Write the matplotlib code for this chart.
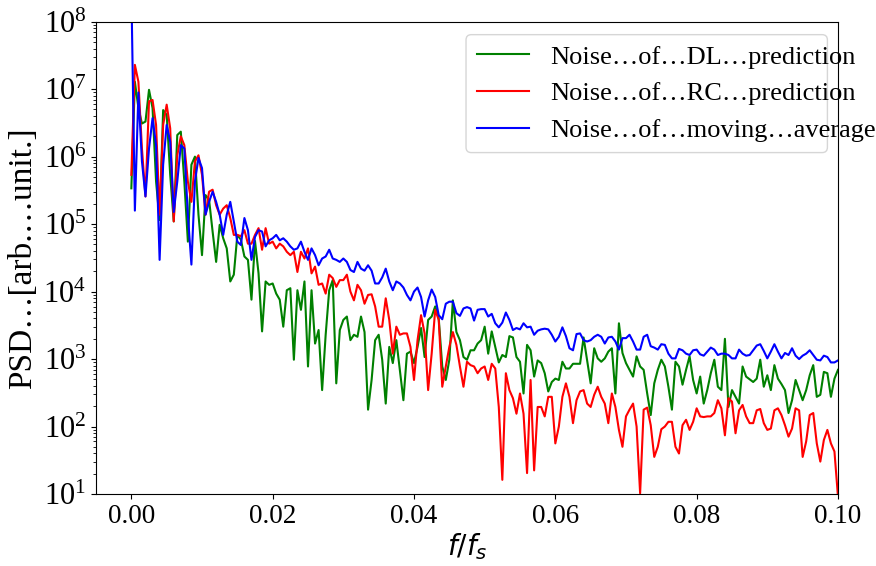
import numpy as np
import matplotlib
matplotlib.use("Agg")
import matplotlib.pyplot as plt
from matplotlib.patches import FancyBboxPatch
from matplotlib.ticker import LogLocator

# frequency axis (normalised f/fs)
freq_step = 0.0005
n_points = 201

# log10(PSD), one value per frequency bin
dl_log10 = [
    5.53, 7.11, 6.72, 6.49, 6.52, 6.99, 6.72, 5.63, 5.06, 6.69, 6.62, 5.73, 5.04, 6.32, 6.37, 5.63,
    4.74, 5.88, 6.0, 5.14, 4.54, 5.43, 5.36, 4.89, 4.44, 4.99, 4.79, 4.64, 4.15, 4.25, 4.84, 4.77,
    4.52, 4.47, 3.88, 4.75, 4.27, 3.41, 4.15, 4.1, 4.12, 3.97, 3.88, 3.48, 4.02, 4.05, 2.99, 4.02,
    3.73, 4.15, 2.89, 4.02, 3.23, 3.43, 2.54, 3.36, 4.02, 4.17, 2.64, 3.43, 3.58, 3.63, 3.28, 3.36,
    3.33, 3.63,
    3.4, 2.25, 2.69, 3.28, 3.36, 2.99, 2.34, 3.18, 2.94, 3.28, 2.84, 2.39, 3.08, 3.11, 2.94, 3.18,
    3.46, 3.03, 3.58, 3.63, 3.78, 3.6, 2.89, 2.69, 2.99, 3.87, 3.4, 3.28, 3.03, 2.99, 3.13, 3.13,
    3.23, 3.28,
    3.48, 3.08, 3.41, 3.18, 2.95, 3.06, 3.03, 3.34, 3.32, 3.03, 2.96, 2.49, 3.21, 3.13, 2.74, 2.98,
    2.94, 2.79, 2.52, 2.66, 2.71, 2.69, 2.96, 2.86, 2.86, 2.93, 2.93, 2.93, 3.32, 2.98, 2.64, 3.16,
    3.01, 2.96,
    3.01, 3.11, 3.16, 2.49, 3.53, 3.09, 2.94, 2.84, 2.74, 3.04, 2.89, 2.84, 2.49, 2.17, 2.64, 2.84,
    2.99, 2.89, 2.59, 2.25, 2.96, 2.89, 2.62, 2.84, 3.04, 2.69, 2.49, 2.74, 2.34, 2.54, 2.79, 2.99,
    2.59, 2.54,
    3.3, 2.29, 2.54, 2.44, 2.34, 2.89, 2.74, 2.7, 2.66, 2.71, 2.99, 2.59, 2.76, 2.54, 2.91, 2.71,
    2.63, 2.54, 2.2, 2.39, 2.69, 2.54, 2.39, 2.54, 2.76, 2.91, 2.44, 2.47, 2.81, 2.79, 2.44, 2.71,
    2.84,
]

rc_log10 = [
    5.73, 7.36, 7.11, 6.12, 5.41, 6.82, 6.84, 6.47, 5.14, 6.47, 6.77, 6.42, 5.04, 6.02, 6.3, 6.17,
    5.63, 5.33, 5.93, 6.02, 5.73, 5.14, 5.48, 5.51, 5.28, 5.14, 5.23, 5.28, 5.09, 4.84, 4.84, 4.82,
    4.91, 4.71, 4.71, 4.84, 4.94, 4.62, 4.94, 4.71, 4.74, 4.64, 4.71, 4.67, 4.59, 4.54, 4.59, 4.29,
    4.59, 4.49, 4.64, 4.27, 4.37, 4.1, 4.12, 3.97, 4.25, 4.2, 4.07, 4.17, 4.17, 4.25, 4.0, 3.87,
    4.1, 4.02,
    3.82, 3.95, 3.96, 3.78, 3.48, 3.48, 3.9, 3.58, 3.08, 3.48, 3.36, 3.38, 3.38, 3.18, 2.69, 3.28,
    3.65, 3.38, 2.54, 3.08, 3.73, 3.58, 2.59, 2.89, 3.18, 3.4, 3.21, 2.89, 2.59, 2.96, 2.91, 2.89,
    2.79, 2.86,
    2.89, 2.69, 2.93, 2.86, 2.29, 1.21, 2.79, 2.54, 2.42, 2.19, 2.49, 2.19, 1.31, 2.69, 1.35, 2.29,
    2.29, 2.15, 2.44, 2.44, 1.75, 2.0, 2.44, 2.64, 2.44, 2.05, 2.39, 2.52, 2.54, 2.34, 2.29, 2.47,
    2.59, 2.44,
    2.34, 2.05, 2.49, 2.29, 1.95, 1.7, 2.15, 2.25, 2.34, 2.0, 1.01, 2.25, 2.28, 2.02, 1.55, 1.7,
    1.96, 2.0, 2.07, 2.07, 1.7, 1.6, 2.02, 2.1, 1.95, 2.07, 2.27, 2.15, 2.14, 2.15, 2.15, 2.2,
    2.39, 2.27,
    1.87, 2.42, 2.37, 1.9, 2.24, 2.32, 2.15, 2.05, 2.05, 2.24, 2.26, 2.05, 1.95, 1.97, 2.24, 2.27,
    2.17, 2.02, 1.85, 1.97, 2.27, 2.24, 1.55, 1.78, 2.17, 2.2, 1.75, 1.48, 1.8, 1.95, 1.75, 1.63,
    0.96,
]

ma_log10 = [
    8.5, 5.2, 6.95, 5.93, 5.41, 6.12, 6.57, 6.17, 4.47, 5.88, 6.47, 6.22, 5.18, 5.63, 6.17, 6.12,
    5.14, 4.4, 5.63, 5.98, 5.83, 5.14, 5.33, 5.48, 5.33, 5.14, 4.84, 5.14, 5.33, 5.04, 4.74, 4.69,
    5.09, 4.91, 4.47, 4.81, 4.91, 4.89, 4.67, 4.76, 4.79, 4.84, 4.76, 4.79, 4.74, 4.67, 4.62, 4.64,
    4.74, 4.59, 4.47, 4.64, 4.54, 4.39, 4.49, 4.52, 4.62, 4.49, 4.47, 4.44, 4.49, 4.44, 4.32, 4.29,
    4.44, 4.34,
    4.31, 4.39, 4.31, 4.12, 4.12, 4.21, 4.34, 4.15, 4.02, 4.15, 4.12, 4.06, 3.95, 3.87, 4.0, 4.06,
    3.92, 3.63, 3.87, 4.03, 3.92, 3.65, 3.59, 3.82, 3.85, 3.85, 3.68, 3.64, 3.75, 3.77, 3.75, 3.57,
    3.73, 3.74,
    3.74, 3.63, 3.67, 3.53, 3.47, 3.54, 3.69, 3.58, 3.43, 3.46, 3.44, 3.53, 3.47, 3.48, 3.36, 3.42,
    3.44, 3.45, 3.44, 3.36, 3.26, 3.33, 3.47, 3.34, 3.16, 3.13, 3.37, 3.38, 3.28, 3.26, 3.28, 3.33,
    3.36, 3.33,
    3.23, 3.32, 3.33, 3.26, 3.14, 3.31, 3.31, 3.36, 3.26, 3.14, 3.14, 3.33, 3.36, 3.19, 3.17, 3.14,
    3.22, 3.21, 3.08, 3.01, 3.01, 3.15, 3.13, 3.08, 3.06, 3.13, 3.14, 3.07, 3.05, 3.11, 3.17, 3.14,
    3.06, 3.08,
    3.08, 3.06, 3.01, 3.01, 3.14, 3.08, 3.05, 3.06, 3.13, 3.2, 3.22, 3.12, 3.01, 3.11, 3.22, 3.11,
    3.01, 3.09, 3.06, 3.16, 3.05, 3.0, 3.05, 3.08, 3.13, 3.06, 2.99, 2.98, 3.05, 3.03, 2.95, 2.95,
    2.98,
]

labels = ["Noise…of…DL…prediction", "Noise…of…RC…prediction", "Noise…of…moving…average"]
colors = ["green", "red", "blue"]
xticks = [0.00, 0.02, 0.04, 0.06, 0.08, 0.10]

freq = np.arange(n_points) * freq_step
series = [np.power(10.0, dl_log10), np.power(10.0, rc_log10), np.power(10.0, ma_log10)]

plt.rcParams['font.family'] = ['Liberation Serif', 'DejaVu Serif']
plt.rcParams['mathtext.fontset'] = 'dejavusans'

fig = plt.figure(figsize=(8.76, 5.66), dpi=100)
ax = fig.add_axes([0.1096, 0.1272, 0.8470, 0.8345])

for y, c, lab in zip(series, colors, labels):
    ax.plot(freq, y, color=c, lw=1.5, label=lab)

ax.set_yscale('log')
ax.set_ylim(1e1, 1e8)
ax.yaxis.set_major_locator(LogLocator(base=10, numticks=20))
ax.yaxis.set_minor_locator(LogLocator(base=10, subs=np.arange(2, 10), numticks=20))
ax.set_xlim(-0.005, 0.1)
ax.set_xticks(xticks)
ax.set_xticklabels([f"{t:.2f}" for t in xticks])
ax.tick_params(axis='x', labelsize=19.5)
ax.tick_params(axis='y', labelsize=22)
ax.set_xlabel(r"$f/f_s$", fontsize=20, labelpad=2)
ax.set_ylabel("PSD…[arb.…unit.]", fontsize=24, labelpad=4)

# legend text placed as in the reference; its frame is narrower than the text,
# as in the reference, so the frame is drawn separately from the legend's own box
leg_fs = 19
anchor = (0.4987, 0.9725)
leg = ax.legend(loc='upper left', bbox_to_anchor=anchor, borderaxespad=0,
                fontsize=leg_fs, handlelength=2.0, frameon=False)
fig.canvas.draw()
renderer = fig.canvas.get_renderer()
x0, y0, w, h = leg.get_window_extent(renderer).bounds
t_long = max(leg.get_texts(), key=lambda t: t.get_window_extent(renderer).width)
full_w = t_long.get_window_extent(renderer).width
probe = fig.text(0, 0, t_long.get_text().replace("…", " "), fontsize=leg_fs)
short_w = probe.get_window_extent(renderer).width
probe.remove()
frame = FancyBboxPatch((x0, y0), w - (full_w - short_w), h,
                       boxstyle="round,pad=0,rounding_size=0.2",
                       mutation_scale=renderer.points_to_pixels(leg_fs),
                       transform=None, facecolor='white', edgecolor='0.8',
                       alpha=0.8, lw=1.0, zorder=4.9, clip_on=False)
ax.add_artist(frame)

fig.savefig("out.png", dpi=100)
